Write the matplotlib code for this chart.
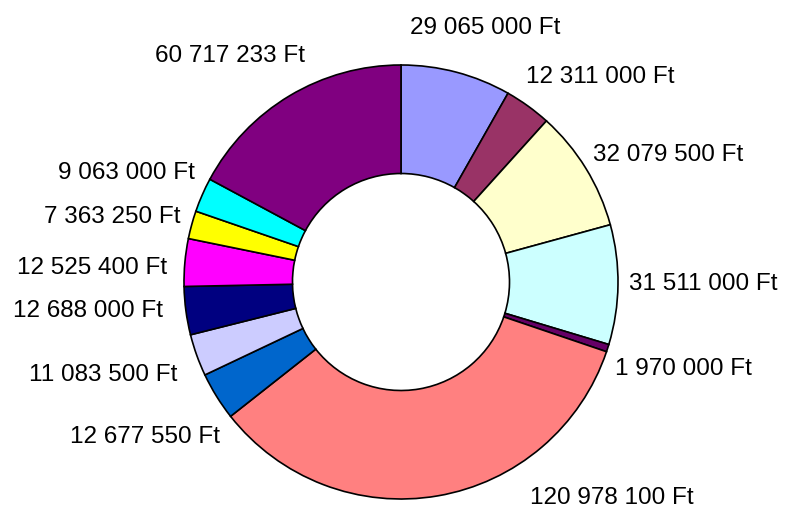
import matplotlib.pyplot as plt

# slice values (Ft), clockwise from the top
values = [29065000, 12311000, 32079500, 31511000, 1970000, 120978100,
          12677550, 11083500, 12688000, 12525400, 7363250, 9063000, 60717233]
colors = ['#9999FF', '#993366', '#FFFFCC', '#CCFFFF', '#660066', '#FF8080',
          '#0066CC', '#CCCCFF', '#000080', '#FF00FF', '#FFFF00', '#00FFFF', '#800080']

# label anchor points, in units of the pie radius
label_x = [0.387, 0.917, 1.230, 1.392, 1.302, 0.970,
           -1.182, -1.371, -1.442, -1.424, -1.332, -1.263, -0.788]
label_y = [1.180, 0.954, 0.599, 0.0, -0.389, -0.982,
           -0.705, -0.415, -0.122, 0.078, 0.309, 0.512, 1.053]

labels = [f"{v:,}".replace(",", " ") + " Ft" for v in values]

fig = plt.figure(figsize=(7.87, 5.09), dpi=100)
ax = fig.add_axes([0, 0, 1, 1])

ax.pie(values, colors=colors, startangle=90, counterclock=False,
       wedgeprops=dict(width=0.5, edgecolor='black', linewidth=1.2))

for txt, x, y in zip(labels, label_x, label_y):
    ax.text(x, y, txt, ha='center', va='center_baseline',
            fontsize=17.5, family='Liberation Sans')

# pie centre sits at pixel (401, 282), radius 217 px
r = 217
ax.set_xlim(-401 / r, (787 - 401) / r)
ax.set_ylim(-(509 - 282) / r, 282 / r)
ax.set_aspect('equal')
ax.axis('off')

fig.savefig('out.png', dpi=100)
